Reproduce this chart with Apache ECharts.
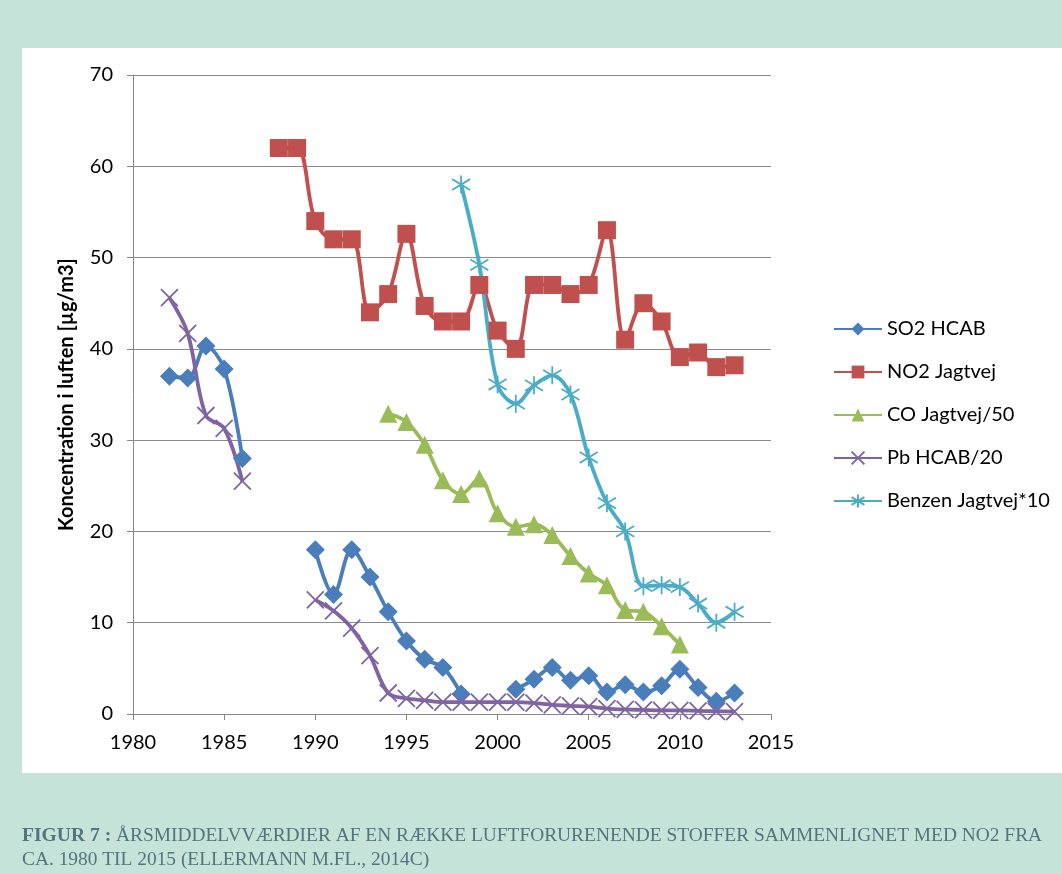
<!DOCTYPE html>
<html>
<head>
<meta charset="utf-8">
<script src="https://cdn.jsdelivr.net/npm/echarts@6/dist/echarts.min.js"></script>
<style>
  html, body { margin: 0; padding: 0; background: #c6e3d9; }
  #chart { width: 1062px; height: 874px; }
</style>
</head>
<body>
<div id="chart"></div>
<script>
// Annual means 1982-2013 (µg/m3); null = no measurement that year
const years = [1982,1983,1984,1985,1986,1987,1988,1989,1990,1991,1992,1993,1994,1995,1996,1997,
               1998,1999,2000,2001,2002,2003,2004,2005,2006,2007,2008,2009,2010,2011,2012,2013];

const so2Hcab = [37.0,36.8,40.3,37.8,28.0,null,null,null,18.0,13.1,18.0,15.0,11.2,8.0,6.0,5.1,
                 2.2,null,null,2.7,3.8,5.1,3.7,4.2,2.4,3.2,2.4,3.1,4.9,2.9,1.4,2.3];

const no2Jagtvej = [null,null,null,null,null,null,62,62,54,52,52,44,46,52.6,44.7,43,
                    43,47,42,40,47,47,46,47,53,41,45,43,39.1,39.6,38,38.2];

const coJagtvej50 = [null,null,null,null,null,null,null,null,null,null,null,null,32.9,32.0,29.5,25.6,
                     24.1,25.8,22.0,20.5,20.8,19.6,17.3,15.4,14.1,11.4,11.2,9.6,7.6,null,null,null];

const pbHcab20 = [45.6,41.7,32.7,31.3,25.5,null,null,null,12.5,11.3,9.4,6.4,2.3,1.7,1.5,1.3,
                  1.3,1.3,1.3,1.3,1.2,1.0,0.9,0.8,0.6,0.5,0.45,0.4,0.4,0.35,0.3,0.25];

const benzenJagtvej10 = [null,null,null,null,null,null,null,null,null,null,null,null,null,null,null,null,
                         58,49.2,36.1,34,36,37.1,35,28.1,23.1,20,14,14.1,13.9,12.1,10,11.2];

const seriesNames = ['SO2 HCAB','NO2 Jagtvej','CO Jagtvej/50','Pb HCAB/20','Benzen Jagtvej*10'];
const yTicks = [0,10,20,30,40,50,60,70];
const xTicks = [1980,1985,1990,1995,2000,2005,2010,2015];

const captionLine1 = 'ÅRSMIDDELVVÆRDIER AF EN RÆKKE LUFTFORURENENDE STOFFER SAMMENLIGNET MED NO2 FRA';
const captionLine2 = 'CA. 1980 TIL 2015 (ELLERMANN M.FL., 2014C)';

const pairs = arr => years.map((y, i) => [y, arr[i]]);

const crossPath = 'path://M0,0L10,10M10,0L0,10';
const starPath = 'path://M5,0L5,10M0,2L10,8M0,8L10,2';

const font = 'Lato, "Open Sans", sans-serif';
const serif = '"Liberation Serif", "DejaVu Serif", serif';
const captionColor = '#52757c';

function lineSeries(name, data, color, symbol, size, strokeOnly) {
  return {
    name: name,
    type: 'line',
    data: pairs(data),
    smooth: 0.35,
    connectNulls: false,
    symbol: symbol,
    symbolSize: size,
    showAllSymbol: true,
    lineStyle: { color: color, width: 3.8 },
    itemStyle: strokeOnly
      ? { color: 'rgba(0,0,0,0)', borderColor: color, borderWidth: 1.8 }
      : { color: color, borderWidth: 0 },
    emphasis: { disabled: true },
    z: 3
  };
}

const chart = echarts.init(document.getElementById('chart'), null, { renderer: 'canvas' });

chart.setOption({
  backgroundColor: '#c6e3d9',
  animation: false,
  graphic: [
    { type: 'rect', left: 22, top: 48, shape: { width: 1040, height: 725 },
      style: { fill: '#ffffff' }, z: -10 },
    { type: 'text', left: 22, top: 826,
      style: {
        text: '{b|FIGUR 7 :} ' + captionLine1,
        font: '19.4px ' + serif,
        fill: captionColor,
        rich: { b: { fontWeight: 'bold', fontSize: 19.6, fontFamily: serif, fill: captionColor } }
      } },
    { type: 'text', left: 22, top: 850,
      style: { text: captionLine2, font: '19.4px ' + serif, fill: captionColor } }
  ],
  grid: { left: 133, right: 291, top: 75, bottom: 160, containLabel: false },
  legend: {
    orient: 'vertical',
    left: 828,
    top: 314,
    itemGap: 23,
    itemWidth: 48,
    itemHeight: 16,
    data: seriesNames,
    textStyle: { fontFamily: font, fontSize: 20, color: '#000' },
    selectedMode: false
  },
  xAxis: {
    type: 'value',
    min: 1980,
    max: 2015,
    interval: 5,
    axisLine: { show: true, onZero: false, lineStyle: { color: '#888', width: 1 } },
    axisTick: { show: true, length: 6, lineStyle: { color: '#888' } },
    splitLine: { show: false },
    axisLabel: { fontFamily: font, fontSize: 20, color: '#000', margin: 19,
                 formatter: v => xTicks.includes(v) ? String(v) : '' }
  },
  yAxis: {
    type: 'value',
    min: 0,
    max: 70,
    interval: 10,
    name: 'Koncentration i luften [µg/m3]',
    nameLocation: 'middle',
    nameGap: 56,
    nameTextStyle: { fontFamily: font, fontSize: 20, fontWeight: 'bold', color: '#000' },
    axisLine: { show: true, lineStyle: { color: '#888', width: 1 } },
    axisTick: { show: true, length: 6, lineStyle: { color: '#888' } },
    splitLine: { show: true, lineStyle: { color: '#8c8c8c', width: 1 } },
    axisLabel: { fontFamily: font, fontSize: 20, color: '#000', margin: 20,
                 formatter: v => yTicks.includes(v) ? String(v) : '' }
  },
  series: [
    lineSeries(seriesNames[0], so2Hcab, '#4a7ebb', 'diamond', 19, false),
    lineSeries(seriesNames[1], no2Jagtvej, '#c0504d', 'rect', 18, false),
    lineSeries(seriesNames[2], coJagtvej50, '#9bbb59', 'triangle', 18, false),
    lineSeries(seriesNames[3], pbHcab20, '#8064a2', crossPath, 17, true),
    lineSeries(seriesNames[4], benzenJagtvej10, '#4bacc6', starPath, 18, true)
  ]
});
</script>
</body>
</html>
